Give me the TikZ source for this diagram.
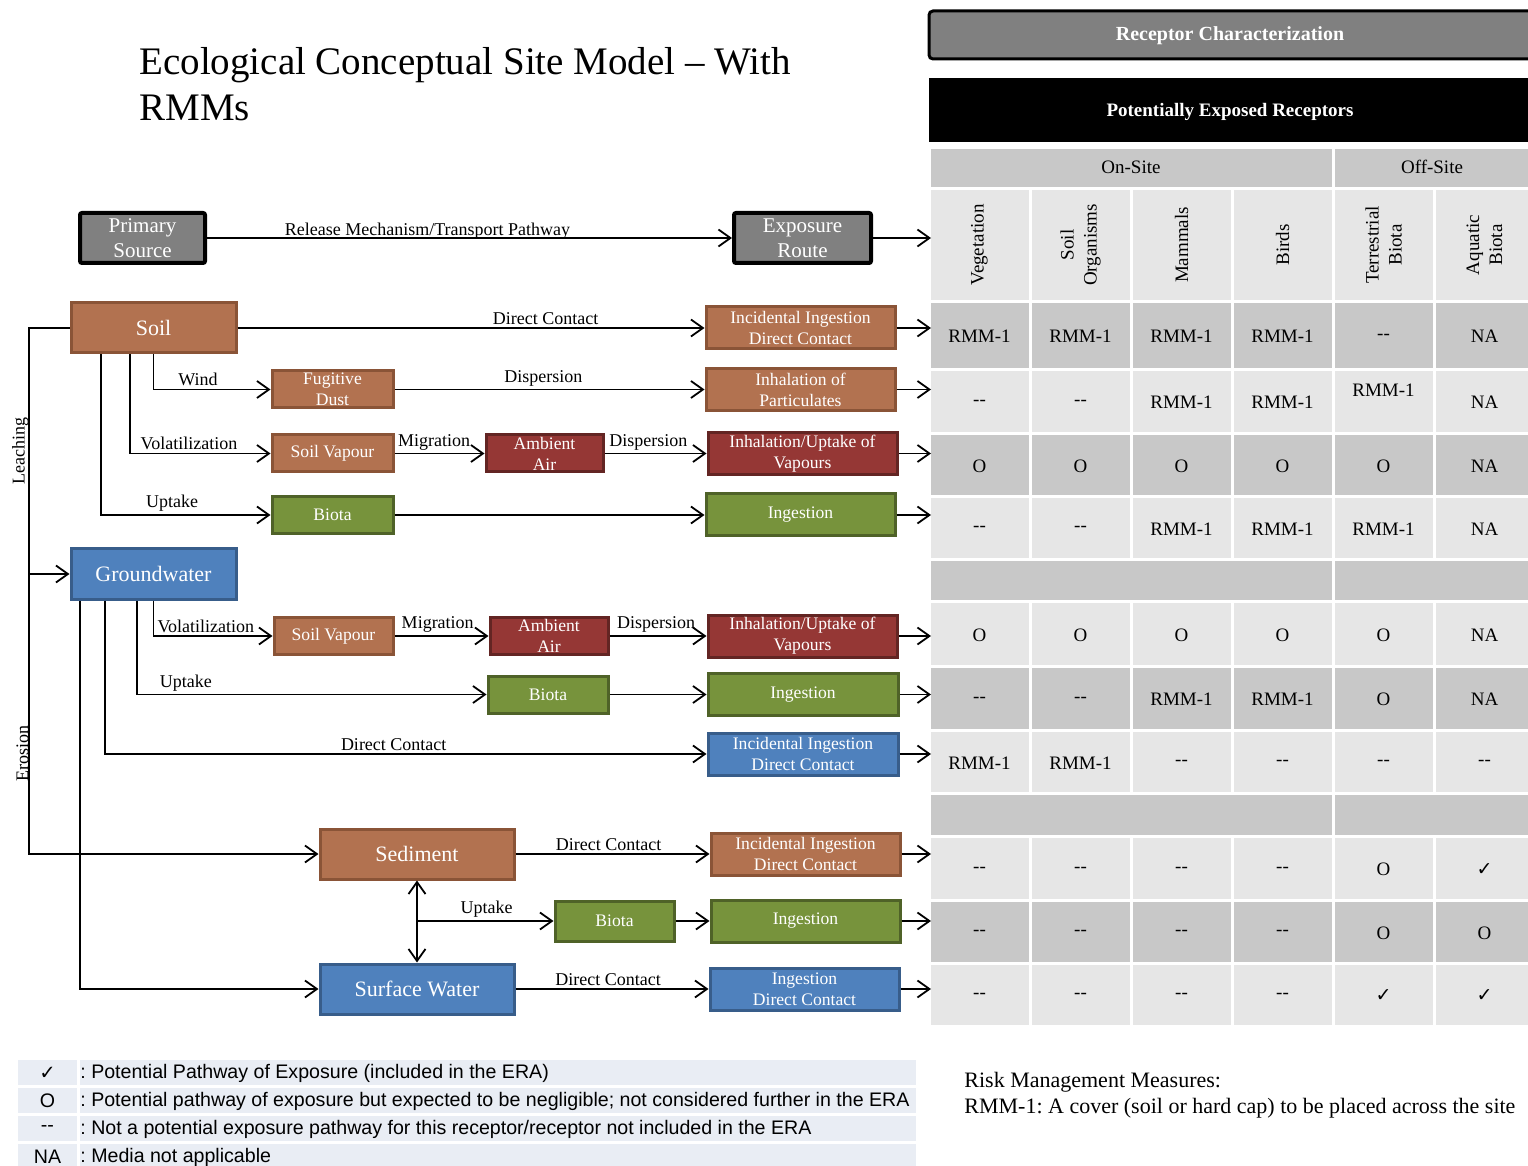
\documentclass[tikz,border=0pt]{standalone}
\usepackage{fontspec}
\setmainfont{Liberation Serif}
\newfontfamily\legfont{Liberation Sans}
\newfontfamily\symfont{DejaVu Sans}
\usetikzlibrary{arrows.meta}
\definecolor{soilF}{RGB}{178,114,80}
\definecolor{soilD}{RGB}{138,84,55}
\definecolor{airF}{RGB}{149,55,53}
\definecolor{airD}{RGB}{99,37,35}
\definecolor{bioF}{RGB}{119,147,60}
\definecolor{bioD}{RGB}{79,98,40}
\definecolor{watF}{RGB}{79,129,189}
\definecolor{watD}{RGB}{56,93,138}
\definecolor{srcF}{RGB}{128,128,128}
\definecolor{tdark}{RGB}{200,200,200}
\definecolor{tlight}{RGB}{230,230,230}
\definecolor{legF}{RGB}{233,237,244}
\newcommand{\dsh}{{-}{-}}
\newcommand{\chk}{{\symfont ✓}}
\newcommand{\up}[1]{\raisebox{12pt}{#1}}
\frenchspacing
\tikzset{
  box/.style={draw, line width=1.5pt, text=white, align=center, inner sep=0pt},
  big/.style={box, minimum height=25pt, font=\fontsize{11}{13}\selectfont},
  route/.style={box, minimum width=94.5pt, minimum height=21pt, font=\fontsize{8.8}{10.5}\selectfont},
  media/.style={box, minimum width=60pt, minimum height=18.5pt, font=\fontsize{8.8}{10.5}\selectfont},
  src/.style={box, fill=srcF, draw=black, line width=2pt, rounded corners=1pt, minimum height=25pt, font=\fontsize{10.5}{12.5}\selectfont},
  soilc/.style={fill=soilF, draw=soilD},
  airc/.style={fill=airF, draw=airD},
  bioc/.style={fill=bioF, draw=bioD},
  watc/.style={fill=watF, draw=watD},
  arr/.style={-{Straight Barb[length=6pt,width=8.5pt]}, line width=0.9pt},
  arrb/.style={{Straight Barb[length=6pt,width=8.5pt]}-{Straight Barb[length=6pt,width=8.5pt]}, line width=0.9pt},
  lbl/.style={font=\fontsize{9}{11}\selectfont, inner sep=1.2pt},
  tcell/.style={font=\fontsize{9.5}{11.5}\selectfont, inner sep=0pt},
  cellbg/.style={draw=white, line width=1.5pt},
  legtxt/.style={font=\legfont\fontsize{9.8}{12}\selectfont, inner sep=0pt}
}
\begin{document}
\begin{tikzpicture}[x=0.5pt, y=-0.5pt]
\useasboundingbox (0,0) rectangle (1528,1166);
\node[anchor=north west, align=left, inner sep=0pt, font=\fontsize{19.5}{23}\selectfont] (title) at (139,47) {Ecological Conceptual Site Model – With\\RMMs};

% receptor table
\filldraw[fill=srcF, draw=black, line width=1.5pt, rounded corners=2pt] (929,11) rectangle (1545,59);
\node[font=\bfseries\fontsize{10}{12}\selectfont, text=white] (rchar) at (1230,36) {Receptor Characterization};
\fill[black] (929,78) rectangle (1545,142);
\node[font=\bfseries\fontsize{9.5}{12}\selectfont, text=white] (perc) at (1230,112) {Potentially Exposed Receptors};
\filldraw[fill=tdark, cellbg] (929,148) rectangle (1333,189);
\filldraw[fill=tdark, cellbg] (1333,148) rectangle (1545,189);
\node[tcell] (onsite) at (1131,167) {On-Site};
\node[tcell] (offsite) at (1432,167) {Off-Site};
\foreach \lab [count=\i from 0] in {Vegetation,{Soil\\Organisms},Mammals,Birds,{Terrestrial\\Biota},{Aquatic\\Biota}}{
  \filldraw[fill=tlight, cellbg] (929+101*\i,189) rectangle ++(101,112.5);
  \node[tcell, rotate=90, align=center] (hd\i) at (979.5+101*\i,245) {\lab};
}
\foreach \yt/\yb/\fc/\vals [count=\r] in {
  301.5/369.5/tdark/{RMM-1,RMM-1,RMM-1,RMM-1,\dsh,NA},
  369.5/433.5/tlight/{\dsh,\dsh,RMM-1,RMM-1,\up{RMM-1},NA},
  433.5/497/tdark/{O,O,O,O,O,NA},
  497/559.5/tlight/{\dsh,\dsh,RMM-1,RMM-1,RMM-1,NA},
  601.5/666.5/tlight/{O,O,O,O,O,NA},
  666.5/730.5/tdark/{\dsh,\dsh,RMM-1,RMM-1,O,NA},
  730.5/793.5/tlight/{RMM-1,RMM-1,\dsh,\dsh,\dsh,\dsh},
  836.5/900.5/tlight/{\dsh,\dsh,\dsh,\dsh,O,\chk},
  900.5/963.5/tdark/{\dsh,\dsh,\dsh,\dsh,O,O},
  963.5/1026.5/tlight/{\dsh,\dsh,\dsh,\dsh,\chk,\chk}}{
  \foreach \v [count=\c from 0] in \vals {
    \filldraw[fill=\fc, cellbg] (929+101*\c,\yt) rectangle (1030+101*\c,\yb);
    \node[tcell] (v\r-\c) at (979.5+101*\c,{(\yt+\yb)/2+1}) {\v};
  }
}
\foreach \yt/\yb in {559.5/601.5, 793.5/836.5}{
  \filldraw[fill=tdark, cellbg] (929,\yt) rectangle (1333,\yb);
  \filldraw[fill=tdark, cellbg] (1333,\yt) rectangle (1545,\yb);
}

% media and exposure routes
\coordinate (tabW) at (931,0);
\coordinate (lch) at (29,574);
\coordinate (ero) at (29,854);
\node[src, minimum width=62.5pt] (psrc) at (142.5,238) {Primary\\Source};
\node[src, minimum width=68.5pt] (expr) at (802.5,238) {Exposure\\Route};

\node[big, soilc, minimum width=82.5pt] (soil) at (153.5,328) {Soil};
\node[route, soilc] (ier1) at (800.5,328) {Incidental Ingestion\\Direct Contact};
\node[media, soilc, minimum width=60.5pt] (fdust) at (332.5,389.5) {Fugitive\\Dust};
\node[route, soilc] (ier2) at (800.5,389.5) {Inhalation of\\Particulates};
\node[media, soilc, minimum width=60.5pt] (svap1) at (332.5,453.5) {Soil Vapour};
\node[media, airc, minimum width=58.5pt] (air1) at (544.5,453.5) {Ambient\\Air};
\node[route, airc] (ier3) at (802.5,453.5) {Inhalation/Uptake of\\Vapours};
\node[media, bioc, minimum width=60.5pt] (bio1) at (332.5,515) {Biota};
\node[route, bioc] (ier4) at (800.5,515) {Ingestion};

\node[big, watc, minimum width=82.5pt] (gw) at (153.5,574) {Groundwater};
\node[media, soilc, minimum width=59.5pt] (svap2) at (333.5,636) {Soil Vapour};
\node[media, airc, minimum width=59pt] (air2) at (549,636) {Ambient\\Air};
\node[route, airc] (ier5) at (802.5,636) {Inhalation/Uptake of\\Vapours};
\node[media, bioc] (bio2) at (548,694.5) {Biota};
\node[route, bioc, minimum width=95pt] (ier6) at (803,694.5) {Ingestion};
\node[route, watc, minimum width=95pt] (ier7) at (803,754) {Incidental Ingestion\\Direct Contact};

\node[big, soilc, minimum width=97pt] (sed) at (417,854) {Sediment};
\node[route, soilc] (ier8) at (805.5,854) {Incidental Ingestion\\Direct Contact};
\node[media, bioc, minimum width=59.5pt, minimum height=20pt] (bio3) at (614.5,921) {Biota};
\node[route, bioc] (ier9) at (805.5,921) {Ingestion};
\node[big, watc, minimum width=97pt] (sw) at (417,989) {Surface Water};
\node[route, watc] (ier10) at (804.5,989) {Ingestion\\Direct Contact};

\draw[arr] (psrc) -- node[lbl, above, pos=0.42, yshift=-2.5pt] {Release Mechanism/Transport Pathway} (expr);
\foreach \n in {expr,ier1,ier2,ier3,ier4,ier5,ier6,ier7,ier8,ier9,ier10}
  \draw[arr] (\n) -- (\n -| tabW);

\draw[arr] (soil) -- node[lbl, above, pos=0.66] {Direct Contact} (ier1);
\draw[arr] (soil.south) |- node[lbl, above, pos=0.69] {Wind} (fdust.west);
\draw[arr] (fdust) -- node[lbl, above, pos=0.48] {Dispersion} (ier2);
\draw[arr] (soil.south) ++(-23.5,0) |- node[lbl, above, pos=0.71] {Volatilization} (svap1.west);
\draw[arr] (svap1) -- node[lbl, above, pos=0.44] {Migration} (air1);
\draw[arr] (air1) -- node[lbl, above, pos=0.43] {Dispersion} (ier3);
\draw[arr] (soil.south) ++(-52.5,0) |- node[lbl, above, pos=0.71] {Uptake} (bio1.west);
\draw[arr] (bio1) -- (ier4);

\draw[arr] (soil.west) -| (ero) -- (sed.west);
\draw[arr] (lch) -- (gw.west);
\path (soil.west -| lch) -- (lch) node[lbl, rotate=90, above, midway, inner sep=0pt] (leach) {Leaching};
\path (lch) -- (ero) node[lbl, rotate=90, above, pos=0.64, inner sep=0pt] (erosion) {Erosion};

\draw[arr] (gw.south) |- node[lbl, above, pos=0.72] {Volatilization} (svap2.west);
\draw[arr] (svap2) -- node[lbl, above, pos=0.46] {Migration} (air2);
\draw[arr] (air2) -- node[lbl, above, pos=0.48] {Dispersion} (ier5);
\draw[arr] (gw.south) ++(-16.5,0) |- node[lbl, above, pos=0.57] {Uptake} (bio2.west);
\draw[arr] (bio2) -- (ier6);
\draw[arr] (gw.south) ++(-48.5,0) |- node[lbl, above, pos=0.74] {Direct Contact} (ier7.west);
\draw[arr] (gw.south) ++(-73.5,0) |- (sw.west);

\draw[arr] (sed) -- node[lbl, above, pos=0.48] {Direct Contact} (ier8);
\draw[arrb] (sed) -- (sw);
\draw[arr] (sed.south |- bio3) -- node[lbl, above, pos=0.51] {Uptake} (bio3);
\draw[arr] (bio3) -- (ier9);
\draw[arr] (sw) -- node[lbl, above, pos=0.48] {Direct Contact} (ier10);

% legend
\foreach \s/\t [count=\i from 0] in {\chk/{: Potential Pathway of Exposure (included in the ERA)},
  O/{: Potential pathway of exposure but expected to be negligible; not considered further in the ERA},
  \dsh/{: Not a potential exposure pathway for this receptor/receptor not included in the ERA},
  NA/{: Media not applicable}}{
  \filldraw[fill=legF, cellbg] (16,1058.5+28*\i) rectangle (78,1086.5+28*\i);
  \filldraw[fill=legF, cellbg] (78,1058.5+28*\i) rectangle (917,1086.5+28*\i);
  \node[legtxt] (ls\i) at (47.5,1073+28*\i) {\s};
  \node[legtxt, anchor=west] (lt\i) at (80,1073+28*\i) {\t};
}
\node[anchor=north west, align=left, inner sep=0pt, font=\fontsize{11}{13}\selectfont] (rmm) at (964,1072) {Risk Management Measures:\\RMM-1: A cover (soil or hard cap) to be placed across the site};
\end{tikzpicture}
\end{document}
